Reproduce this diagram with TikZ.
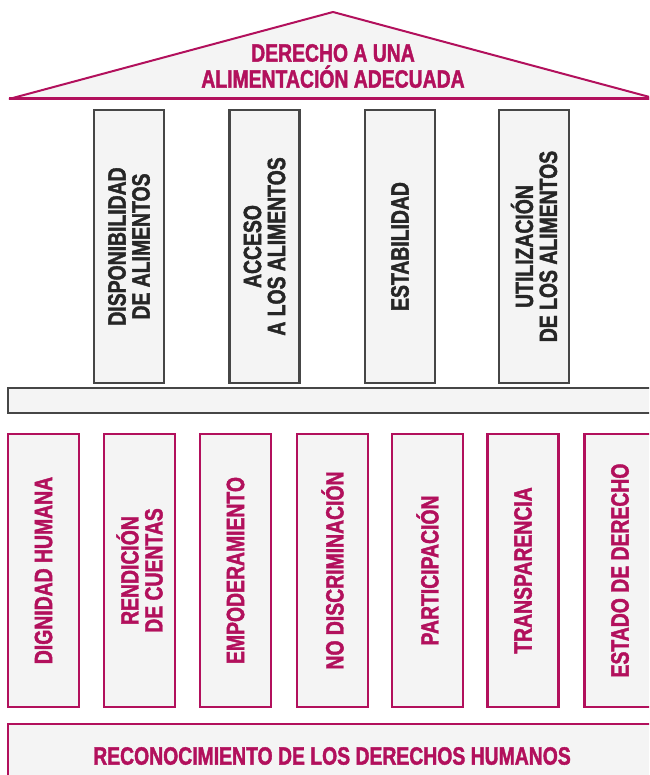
\documentclass[tikz,border=0pt]{standalone}
\usepackage{fontspec}
\newfontfamily\condfont{Liberation Sans Bold}[FakeStretch=0.775, FakeBold=1.6]
\definecolor{rdmag}{RGB}{178, 16, 92}
\definecolor{rdgray}{RGB}{70, 70, 70}
\definecolor{rdfill}{RGB}{244, 244, 244}
\usepackage{tikz}
\usetikzlibrary{positioning}

\begin{document}
\begin{tikzpicture}[x=1pt, y=-1pt,
    roof/.style={draw=rdmag, line width=2pt, fill=rdfill, line join=bevel},
    pillar/.style={draw=rdgray, line width=2.4pt, fill=rdfill, rotate=90,
      minimum width=273pt, minimum height=70pt, inner sep=0pt, align=center,
      text=black!85, font=\condfont\fontsize{25}{24}\selectfont},
    lowpillar/.style={pillar, draw=rdmag, text=rdmag, minimum height=71pt},
    slab/.style={draw=rdgray, line width=2.4pt, fill=rdfill, minimum width=648pt, inner sep=0pt},
    base/.style={draw=rdmag, line width=2.4pt, fill=rdfill, minimum width=648pt, inner sep=0pt,
      text=rdmag, font=\condfont\fontsize{25}{26}\selectfont}]
    \path[use as bounding box, clip] (0,0) rectangle (649,775);

    % Roof
    \draw[roof] (9,99) -- (333,12) -- (657,99) -- cycle;
    \draw[rdmag, line width=3pt] (9,98.5) -- (657,98.5);
    \node[align=center, text=rdmag, font=\condfont\fontsize{25}{26}\selectfont]
      (title) at (333,66) {DERECHO A UNA\\ALIMENTACIÓN ADECUADA};

    % Upper pillars
    \foreach \x/\txt [count=\k] in {129/{DISPONIBILIDAD\\DE ALIMENTOS}, 264.5/{ACCESO\\A LOS ALIMENTOS},
        400/ESTABILIDAD, 534/{UTILIZACIÓN\\DE LOS ALIMENTOS}} {
      \node[pillar] (up\k) at (\x,246.5) {\txt};
    }

    % Beam
    \node[slab, minimum height=25pt] (beam) at (332,400.5) {};

    % Lower pillars
    \foreach \x/\txt [count=\k] in {43.5/DIGNIDAD HUMANA, 139.5/{RENDICIÓN\\DE CUENTAS}, 235.5/EMPODERAMIENTO,
        332.5/NO DISCRIMINACIÓN, 427.5/PARTICIPACIÓN, 523/TRANSPARENCIA, 620/ESTADO DE DERECHO} {
      \node[lowpillar] (low\k) at (\x,570.5) {\txt};
    }

    % Base
    \node[base, minimum height=64pt] (recon) at (332,756) {RECONOCIMIENTO DE LOS DERECHOS HUMANOS};
  \end{tikzpicture}
\end{document}
